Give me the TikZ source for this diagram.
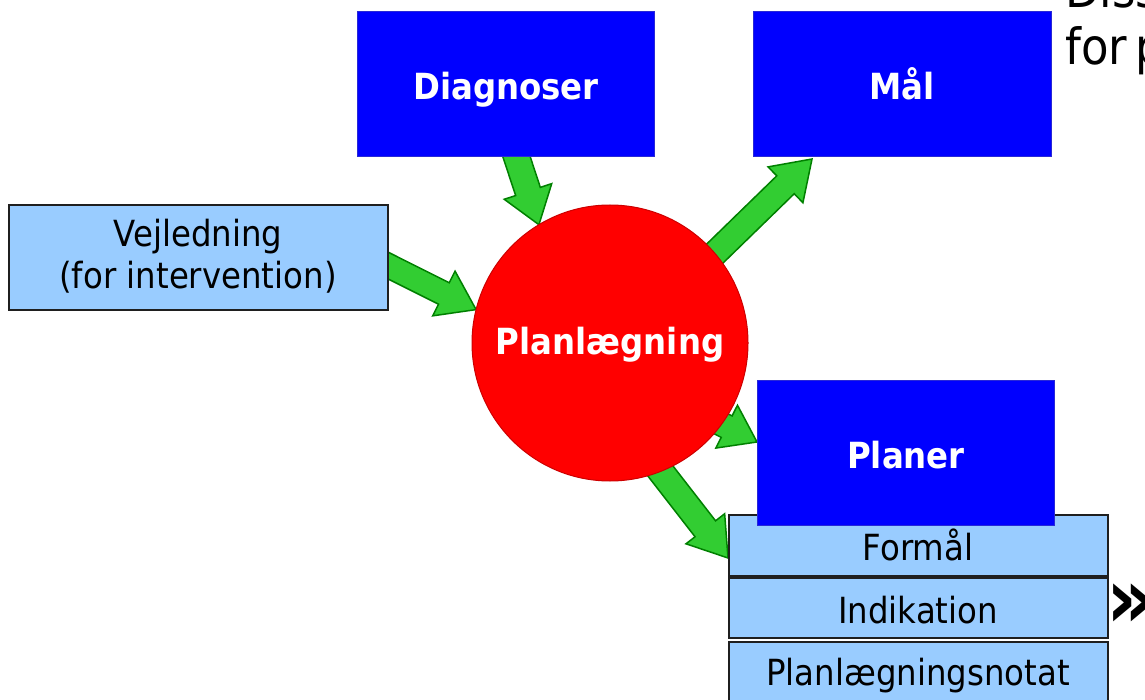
\documentclass[tikz,border=0pt]{standalone}
\usepackage{fontspec}
\setmainfont{DejaVu Sans}[FakeStretch=0.9]
\usetikzlibrary{calc}
\definecolor{lblue}{RGB}{153,204,255}
\definecolor{agreen}{RGB}{50,205,50}
\definecolor{adgreen}{RGB}{0,128,0}
\definecolor{cred}{RGB}{255,0,0}
\definecolor{cedge}{RGB}{205,0,0}
\definecolor{bblue}{RGB}{0,0,255}
\definecolor{bedge}{RGB}{40,40,215}
\pgfdeclarelayer{bg}
\pgfsetlayers{bg,main}
\tikzset{
  bluebox/.style={draw=bedge, line width=1pt, fill=bblue, inner sep=0pt, outer sep=0pt, anchor=north west},
  lightbox/.style={draw=black!88, line width=2pt, fill=lblue, inner sep=0pt, outer sep=0pt, anchor=north west},
  bluetext/.style={text=white, font=\bfseries\fontsize{36}{43}\selectfont, inner sep=0pt, anchor=base},
  boxtext/.style={text=black, font=\fontsize{36}{42}\selectfont, inner sep=0pt, anchor=base},
  bigtext/.style={text=black, font=\fontsize{50}{58}\selectfont, inner sep=0pt, anchor=base west},
  blockarrow/.style={draw=adgreen, line width=1.5pt, fill=agreen, line join=miter},
}
% #1 start, #2 tip, #3 half shaft, #4 half head, #5 head length
\newcommand\barrow[5]{%
  \path[blockarrow] let \p1=(#1), \p2=(#2),
    \n1={atan2(\y2-\y1,\x2-\x1)}, \n2={veclen(\x2-\x1,\y2-\y1)} in
    [shift={(\p1)}, rotate=\n1]
    (0pt,-#3pt) -- ({\n2*1pt-#5pt},-#3pt) -- ({\n2*1pt-#5pt},-#4pt) -- ({\n2*1pt},0pt)
    -- ({\n2*1pt-#5pt},#4pt) -- ({\n2*1pt-#5pt},#3pt) -- (0pt,#3pt) -- cycle;}
\begin{document}
\begin{tikzpicture}[x=1pt,y=-1pt]
\useasboundingbox (0,0) rectangle (1145,700);
\clip (0,0) rectangle (1145,700);
% boxes
\node[bluebox, minimum width=297, minimum height=145] (diag) at (357,12) {};
\node[bluebox, minimum width=298, minimum height=145] (mal) at (753,12) {};
\node[lightbox, minimum width=379, minimum height=105] (vej) at (9,205) {};
\node[circle, fill=cred, draw=cedge, line width=1pt, minimum size=276, inner sep=0pt, outer sep=0pt] (plan) at (610,343) {};
\node[lightbox, minimum width=379, minimum height=61] (formal) at (729,515) {};
\node[lightbox, minimum width=379, minimum height=60] (indik) at (729,578) {};
\node[lightbox, minimum width=379, minimum height=70] (notat) at (729,642) {};
\node[bluebox, minimum width=297, minimum height=145] (planer) at (757,380) {};
% texts
\node[bluetext] (tdiag) at (506,100) {Diagnoser};
\node[bluetext] (tmal) at (902,100) {Mål};
\node[bluetext] (tplan) at (610,355) {Planlægning};
\node[bluetext] (tplaner) at (906,468) {Planer};
\node[boxtext] (tvej1) at (198,247) {Vejledning};
\node[boxtext] (tvej2) at (198,289) {(for intervention)};
\node[boxtext] (tformal) at (918,560) {Formål};
\node[boxtext] (tindik) at (918,623) {Indikation};
\node[boxtext] (tnotat) at (918,685) {Planlægningsnotat};
\node[bigtext] (tdiss) at (1065,8) {Diss};
\node[bigtext] (tforp) at (1065,65) {for\hspace{8pt}p};
\node[text=black, font=\bfseries\fontsize{84}{84}\selectfont, inner sep=0pt, anchor=base west] (chev) at (1106,627) {»};
% arrow end points
\coordinate (a1s) at (513,146);
\coordinate (a1e) at (plan.121.5);
\coordinate (a2s) at (700,268);
\coordinate (a2e) at (812,159);
\coordinate (a3s) at (380,261.5);
\coordinate (a3e) at (plan.166.6);
\coordinate (a4s) at (668,397);
\coordinate (a4e) at (757,442);
\coordinate (a5s) at (648,455);
\coordinate (a5e) at (728,558);
\begin{pgfonlayer}{bg}
\barrow{a1s}{a1e}{13}{25}{35}
\barrow{a2s}{a2e}{12.5}{25}{37}
\barrow{a3s}{a3e}{12}{25}{36}
\barrow{a4s}{a4e}{12}{24}{34}
\barrow{a5s}{a5e}{13}{24.5}{37}
\end{pgfonlayer}
\end{tikzpicture}
\end{document}
